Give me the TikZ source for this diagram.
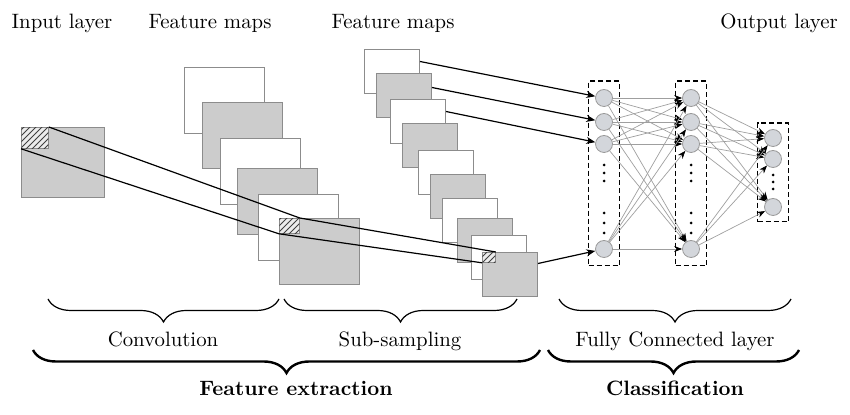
\documentclass[tikz,border=0pt]{standalone}
\usepackage{tikz}
\usetikzlibrary{arrows.meta,decorations.pathreplacing,positioning,fit,patterns}
\definecolor{neuronfill}{RGB}{211,214,219}
\tikzset{fmap/.style={draw=gray!90,line width=0.5pt,inner sep=0,anchor=north west},
    bigmap/.style={fmap,minimum width=40pt,minimum height=33pt},
    smallmap/.style={fmap,minimum width=27.5pt,minimum height=22pt},
    hatchbox/.style={draw=gray!90,line width=0.4pt,inner sep=0,anchor=north west,fill=gray!15,
        postaction={pattern=north east lines,pattern color=black!75}},
    neuron/.style={draw=gray!80,fill=neuronfill,circle,minimum size=8.5pt,inner sep=0,line width=0.4pt},
    layerbox/.style={draw,line width=0.6pt,dash pattern=on 2.5pt off 1.5pt,inner xsep=3.25pt},
    link/.style={draw=gray!75,line width=0.35pt,-{Stealth[length=4pt,width=3pt,black]}},
    feed/.style={line width=0.6pt,-{Stealth[length=4.5pt,width=3.5pt]}},
    accolade/.style={decorate,decoration={brace,amplitude=11.5pt,mirror}},
    textlabel/.style={anchor=base,inner sep=0}}

\begin{document}
\begin{tikzpicture}[x=0.5pt,y=-0.5pt,font=\fontsize{10.4}{12}\selectfont]

\useasboundingbox (0,0) rectangle (850,415);

% input layer

\node (in) [bigmap,fill=black!20,minimum width=41.5pt,minimum height=35pt] at (21,127) {};
\node (inh) [hatchbox,minimum width=13.5pt,minimum height=10.5pt] at (in.north west) {};

% convolution maps

\foreach \x/\y [count=\i] in {184/67,202/102,220/138,237/168,258/194,279/218}
{
    \ifodd\i
        \node (c\i) [bigmap,fill=white] at (\x,\y) {};
    \else
        \node (c\i) [bigmap,fill=black!20] at (\x,\y) {};
    \fi
}
\node (ch) [hatchbox,minimum width=10pt,minimum height=7.5pt] at (c6.north west) {};

% sub-sampling maps

\foreach \x/\y [count=\i] in {364/49,376/73,390/99,402/123,418/150,430/174,442/198,457/218,471/235,482/252}
{
    \ifodd\i
        \node (s\i) [smallmap,fill=white] at (\x,\y) {};
    \else
        \node (s\i) [smallmap,fill=black!20] at (\x,\y) {};
    \fi
}
\node (sh) [hatchbox,minimum width=6.5pt,minimum height=5pt] at (s10.north west) {};

\draw [line width=0.6pt] (inh.north east) -- (ch.north east) -- (sh.north east);
\draw [line width=0.6pt] (inh.south west) -- (ch.south west) -- (sh.south west);

% fully connected layer

\foreach \y [count=\i] in {98,122,144,249}
{
    \node (a\i) [neuron] at (604,\y) {};
    \node (b\i) [neuron] at (691,\y) {};
}
\foreach \y [count=\i] in {138,159,207}
    \node (o\i) [neuron] at (773,\y) {};

\node (boxa) [layerbox,inner ysep=4pt,fit=(a1)(a4)] {};
\node (boxb) [layerbox,inner ysep=4pt,fit=(b1)(b4)] {};
\node (boxo) [layerbox,inner ysep=3pt,fit=(o1)(o3)] {};

\foreach \x in {604,691}
    \foreach \y in {165,173,181,213,223,233}
        \fill (\x,\y) circle (0.75pt);
\foreach \y in {175,182,189}
    \fill (773,\y) circle (0.75pt);

\foreach \i in {1,...,4}
    \foreach \j in {1,...,4}
        \draw [link] (a\i) -- (b\j);
\foreach \i in {1,...,4}
    \foreach \j in {1,2,3}
        \draw [link] (b\i) -- (o\j);

\draw [feed] ([yshift=5pt]s1.east) -- (a1);
\draw [feed] ([yshift=4pt]s2.east) -- (a2);
\draw [feed] ([yshift=5pt]s3.east) -- (a3);
\draw [feed] ([yshift=5.5pt]s10.east) -- (a4);

% titles

\node (tin) [textlabel] at (62,29) {Input layer};
\node (tconv) [textlabel] at (210,29) {Feature maps};
\node (tsub) [textlabel] at (393,29) {Feature maps};
\node (tout) [textlabel] at (779,29) {Output layer};

% braces

\draw [accolade,line width=0.6pt] (48,299) -- (279,299);
\draw [accolade,line width=0.6pt] (284,299) -- (517,299);
\draw [accolade,line width=0.6pt] (559,299) -- (791,299);
\draw [accolade,line width=1.2pt] (33,350) -- (540,350);
\draw [accolade,line width=1.2pt] (548,350) -- (799,350);

\node (lconv) [textlabel] at (163,347) {Convolution};
\node (lsub) [textlabel] at (400,347) {Sub-sampling};
\node (lfc) [textlabel] at (675,347) {Fully Connected layer};
\node (lfeat) [textlabel,font=\fontsize{10.4}{12}\selectfont\bfseries] at (296,396) {Feature extraction};
\node (lclass) [textlabel,font=\fontsize{10.4}{12}\selectfont\bfseries] at (675,396) {Classification};

\end{tikzpicture}
\end{document}
